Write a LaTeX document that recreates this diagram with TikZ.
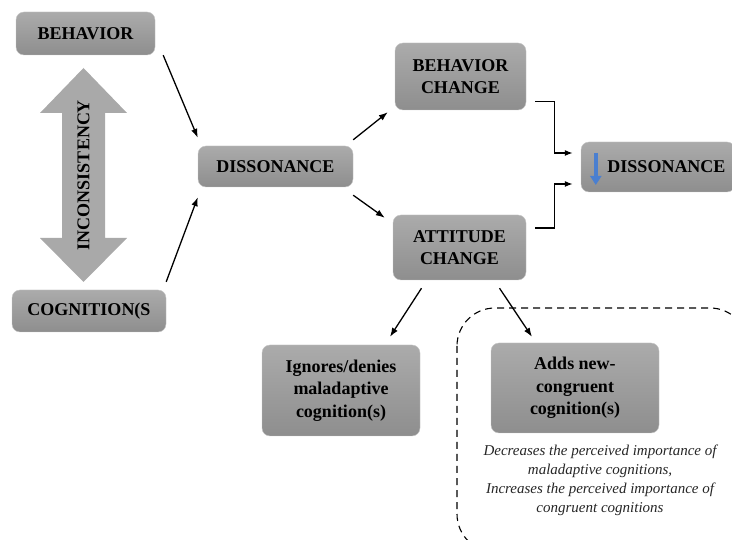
\documentclass[tikz,border=0pt]{standalone}
\usepackage{fontspec}
\setmainfont{Liberation Serif}
\usepackage{tikz}
\usetikzlibrary{arrows.meta,positioning,calc}
\usepackage{xcolor}
\definecolor{boxtop}{HTML}{ABABAB}
\definecolor{boxbottom}{HTML}{8E8E8E}
\definecolor{boxline}{HTML}{C4C4C4}
\definecolor{arrowgray}{HTML}{A9A9A9}
\definecolor{dropblue}{HTML}{4A7FD0}

\tikzset{
  gbox/.style={draw=boxline, rounded corners=8pt, top color=boxtop, bottom color=boxbottom,
    font=\bfseries\fontsize{18}{22.5}\selectfont, align=center, inner sep=0pt},
  arr/.style={-{Latex[length=9pt,width=6.5pt]}, line width=1.3pt},
  elbow/.style={-{Latex[length=8pt,width=6pt]}, line width=1.3pt},
}

\begin{document}
\begin{tikzpicture}[x=1pt,y=-1pt]
  \useasboundingbox (0,0) rectangle (732,540);

  % left column
  \node[gbox, minimum width=139pt, minimum height=43pt] (beh) at (85.5,33.5) {BEHAVIOR};
  \node[gbox, minimum width=154pt, minimum height=42pt] (cog) at (89,311) {COGNITION(S};
  \fill[arrowgray] (40,113) -- (83.5,68) -- (127,113) -- (105,113) -- (105,238) -- (127,238)
    -- (83.5,282) -- (40,238) -- (62,238) -- (62,113) -- cycle;
  \node[rotate=90, font=\bfseries\fontsize{18}{22}\selectfont] (incons) at (83.5,175) {INCONSISTENCY};

  % middle
  \node[gbox, minimum width=155pt, minimum height=41pt] (dis) at (275.5,166.5) {DISSONANCE};
  \node[gbox, minimum width=131pt, minimum height=67pt] (bchg) at (460.5,76.5) {BEHAVIOR\\CHANGE};
  \node[gbox, minimum width=133pt, minimum height=65pt] (achg) at (459.5,247.5) {ATTITUDE\\CHANGE};
  \node[gbox, minimum width=154pt, minimum height=50pt] (rdis) at (658,167) {\hspace*{17pt}DISSONANCE};
  \draw[-{Triangle[length=9pt,width=11pt]}, line width=4pt, dropblue]
    ([xshift=15pt,yshift=14pt]rdis.west) -- ([xshift=15pt,yshift=-18pt]rdis.west);

  % lower branch
  \node[gbox, minimum width=158pt, minimum height=91pt] (ign) at (341,390.5) {Ignores/denies\\maladaptive\\cognition(s)};
  \node[gbox, minimum width=168pt, minimum height=90pt] (adds) at (575,388) {Adds new-\\congruent\\cognition(s)};
  \node[font=\itshape\fontsize{15}{19}\selectfont, align=center, text=black!85] (note) at (600,480)
    {Decreases the perceived importance of\\maladaptive cognitions,\\Increases the perceived importance of\\congruent cognitions};
  \draw[dashed, line width=1.1pt, dash pattern=on 7pt off 5pt, rounded corners=38pt] (457,308) rectangle (748,552);

  % connectors
  \draw[arr] ([xshift=8pt]beh.south east) -- ([yshift=8pt]dis.north west);
  \draw[arr] ([yshift=8pt]cog.north east) -- ([yshift=-10pt]dis.south west);
  \draw[arr] ([yshift=6pt]dis.north east) -- ([xshift=-7pt,yshift=-2pt]bchg.south west);
  \draw[arr] ([yshift=-8pt]dis.south east) -- ([xshift=-8pt,yshift=-3pt]achg.north west);
  \draw[arr] ([xshift=-38pt,yshift=-8pt]achg.south) -- ([xshift=49pt,yshift=8pt]ign.north);
  \draw[arr] ([xshift=40pt,yshift=-8pt]achg.south) -- ([xshift=-43pt,yshift=6pt]adds.north);
  \draw[elbow] ([xshift=9pt,yshift=-25pt]bchg.east) -- ++(19,0) |- ([xshift=-8pt,yshift=14pt]rdis.west);
  \draw[elbow] ([xshift=9pt,yshift=19.5pt]achg.east) -- ++(19,0) |- ([xshift=-8pt,yshift=-17pt]rdis.west);
\end{tikzpicture}
\end{document}
